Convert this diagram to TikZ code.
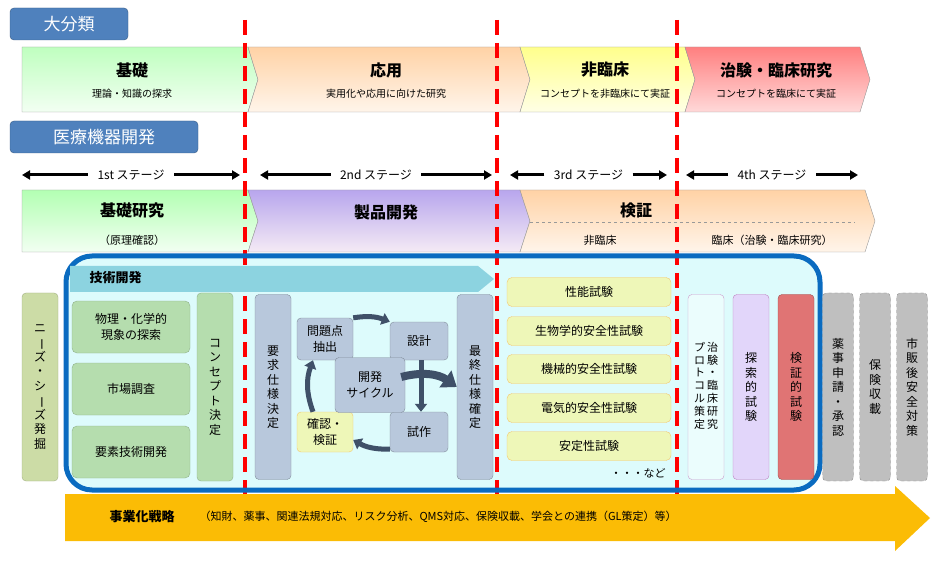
\documentclass[tikz,border=0pt]{standalone}
\usepackage{fontspec}
\setmainfont{Noto Sans CJK JP}
\usetikzlibrary{positioning,arrows.meta,calc}
\definecolor{tabblue}{HTML}{4F81BD}
\definecolor{boxblue}{HTML}{0A6BC0}
\definecolor{cyanbg}{HTML}{DDFBFC}
\definecolor{cyanarr}{HTML}{8CD3E0}
\definecolor{grnbox}{HTML}{B5DDAE}
\definecolor{olive}{HTML}{CCDCA6}
\definecolor{slate}{HTML}{B8C8DC}
\definecolor{ylw}{HTML}{EEF7B8}
\definecolor{lav}{HTML}{E2D6FA}
\definecolor{redbox}{HTML}{E07474}
\definecolor{gold}{HTML}{FBBC05}
\definecolor{cyc}{HTML}{3F5068}
\newcommand\chev[6]{\path[#5] (#1,#3) -- (#2,#3) -- ({#2+10},{(#3+#4)/2}) -- (#2,#4) -- (#1,#4) -- ({#1+#6},{(#3+#4)/2}) -- cycle;}
\newcommand\vbar{\rotatebox[origin=c]{-90}{ー}}
\begin{document}
\begin{tikzpicture}[x=1pt,y=-1pt,
  tab/.style={draw=tabblue!70!black, fill=tabblue, rounded corners=4pt, text=white,
    font=\fontsize{17}{17}\selectfont, inner sep=0pt, minimum height=32pt},
  big/.style={font=\fontsize{16}{16}\selectfont\bfseries},
  small/.style={font=\fontsize{10}{10}\selectfont},
  vbox/.style={rounded corners=4pt, minimum width=36pt, minimum height=188pt,
    align=center, font=\fontsize{12}{14.5}\selectfont, inner sep=1pt},
  hbox/.style={rounded corners=5pt, minimum width=118pt, minimum height=52pt,
    align=center, font=\fontsize{12}{16}\selectfont, fill=grnbox, draw=grnbox!80!black},
  cbox/.style={rounded corners=4pt, fill=slate, draw=slate!70!black, align=center,
    font=\fontsize{12}{16}\selectfont, inner sep=1pt},
  tbox/.style={rounded corners=5pt, fill=ylw, draw=ylw!60!orange, minimum width=164pt,
    minimum height=29pt, font=\fontsize{12}{12}\selectfont},
  gbox/.style={vbox, fill=black!25, draw=black!45, dashed, minimum width=31pt},
  stage/.style={font=\fontsize{12}{12}\selectfont},
  sarr/.style={-{Triangle[length=8pt,width=9pt]}, line width=3pt},
  cyarr/.style={-{Triangle[length=8pt,width=12pt]}, line width=5pt, cyc},
  redline/.style={red, line width=3.5pt, dash pattern=on 15pt off 8pt}]
\useasboundingbox (0,0) rectangle (942,561);

% top row
\node[tab, minimum width=118pt] (tabA) at (69,24) {大分類};
\chev{22}{248}{47}{112}{draw=black!40, top color=green!25, bottom color=green!5}{0}
\chev{248}{520}{47}{112}{draw=black!40, top color=orange!35, bottom color=orange!8}{10}
\chev{520}{685}{47}{112}{draw=black!40, top color=yellow!45, bottom color=yellow!10}{10}
\chev{685}{860}{47}{112}{draw=black!40, top color=red!50, bottom color=red!15}{10}
\node[big] (kiso) at (132,70) {基礎};
\node[small] (kisoS) at (132,94) {理論・知識の探求};
\node[big] (oyo) at (386,70) {応用};
\node[small] (oyoS) at (386,94) {実用化や応用に向けた研究};
\node[big] (hirin) at (605,70) {非臨床};
\node[small] (hirinS) at (605,94) {コンセプトを非臨床にて実証};
\node[big] (chiken) at (776,70) {治験・臨床研究};
\node[small] (chikenS) at (776,94) {コンセプトを臨床にて実証};

% stages
\node[tab, minimum width=188pt] (tabB) at (104,137) {医療機器開発};
\foreach \n/\t/\a/\b in {s1/1st/22/240, s2/2nd/260/492, s3/3rd/510/667, s4/4th/686/858}{
  \node[stage] (\n) at ({(\a+\b)/2},175) {\t\ ステージ};
  \coordinate (\n L) at (\a,175);
  \coordinate (\n R) at (\b,175);
  \draw[sarr] ([xshift=-6pt]\n.west) -- (\n L);
  \draw[sarr] ([xshift=6pt]\n.east) -- (\n R);
}

% second row
\chev{22}{248}{190}{252}{draw=black!40, top color=green!30, bottom color=green!5}{0}
\chev{248}{520}{190}{252}{draw=black!40, top color=violet!40!blue!35, bottom color=violet!8}{10}
\chev{520}{865}{190}{252}{draw=black!40, top color=orange!35, bottom color=orange!8}{10}
\draw[black!40, dashed] (530,222) -- (855,222);
\node[big] (kisoken) at (132,210) {基礎研究};
\node[font=\fontsize{11}{11}\selectfont] (genri) at (132,240) {（原理確認）};
\node[big] (seihin) at (386,212) {製品開発};
\node[big] (kensho) at (636,210) {検証};
\node[font=\fontsize{11}{11}\selectfont] (hr2) at (600,240) {非臨床};
\node[font=\fontsize{11}{11}\selectfont] (rin2) at (772,240) {臨床（治験・臨床研究）};

% main box
\fill[cyanbg, rounded corners=26pt] (66,256) rectangle (820,490);
\foreach \x in {245,497,677}
  \draw[redline] (\x,20) -- (\x,545);
\draw[boxblue, line width=5pt, rounded corners=26pt] (66,256) rectangle (820,490);
\path[fill=cyanarr] (70,266) -- (478,266) -- (494,279) -- (478,292) -- (70,292) -- cycle;
\node[font=\fontsize{13}{13}\selectfont\bfseries, anchor=west] (gijutsu) at (86,278) {技術開発};

\node[vbox, fill=olive, draw=olive!80!black] (needs) at (40,387) {ニ\\\vbar\\ズ\\・\\シ\\\vbar\\ズ\\発\\掘};
\node[hbox] (butsuri) at (131,327) {物理・化学的\\現象の探索};
\node[hbox] (shijo) at (131,389) {市場調査};
\node[hbox] (yoso) at (131,452) {要素技術開発};
\node[vbox, fill=grnbox, draw=grnbox!80!black] (concept) at (215,387) {コ\\ン\\セ\\プ\\ト\\決\\定};

\node[vbox, fill=slate, draw=slate!70!black, minimum height=185pt] (yokyu) at (273,387) {要\\求\\仕\\様\\決\\定};
\node[vbox, fill=slate, draw=slate!70!black, minimum height=185pt] (saishu) at (475,387) {最\\終\\仕\\様\\確\\定};
\node[cbox, minimum width=56pt, minimum height=42pt] (mondai) at (325,339) {問題点\\抽出};
\node[cbox, minimum width=58pt, minimum height=38pt] (sekkei) at (419,341) {設計};
\node[cbox, minimum width=58pt, minimum height=40pt] (shisaku) at (419,432) {試作};
\node[cbox, fill=ylw, draw=ylw!60!orange, minimum width=56pt, minimum height=40pt] (kakunin) at (325,432) {確認・\\検証};
\node[cbox, minimum width=70pt, minimum height=55pt] (cycle) at (370,385) {開発\\サイクル};
\draw[cyarr] (mondai.north east) to[bend left=15] (sekkei.north west);
\draw[cyarr] ([xshift=2pt]sekkei.south) -- ([xshift=2pt]shisaku.north);
\draw[cyarr] ([yshift=3pt]shisaku.south west) to[bend left=15] ([yshift=-8pt]kakunin.east);
\draw[cyarr] ([xshift=-12pt]kakunin.north) to[bend left=20] ([xshift=-12pt]mondai.south);
\draw[-{Triangle[length=14pt,width=20pt]}, line width=8pt, cyc] ([xshift=-4pt,yshift=8pt]cycle.east) to[bend left=25] (saishu.west);

% tests
\foreach \n/\y/\t in {t1/292/性能試験, t2/331/生物学的安全性試験, t3/369/機械的安全性試験, t4/408/電気的安全性試験, t5/446/安定性試験}
  \node[tbox] (\n) at (589,\y) {\t};
\node[font=\fontsize{11}{11}\selectfont] (nado) at (638,473) {・・・など};

\node[vbox, fill=cyanbg!60!white, draw=violet!40, minimum height=185pt, font=\fontsize{11}{13}\selectfont, inner sep=0pt] (proto) at (706,387) {\renewcommand\arraystretch{0.95}\begin{tabular}{@{}c@{\hspace{2pt}}c@{}}プ&治\\ロ&験\\ト&・\\コ&臨\\ル&床\\策&研\\定&究\end{tabular}};
\node[vbox, fill=lav, draw=violet!50, minimum height=185pt] (tansaku) at (751,387) {探\\索\\的\\試\\験};
\node[vbox, fill=redbox, draw=redbox!70!black, minimum height=185pt] (kenshoT) at (796,387) {検\\証\\的\\試\\験};
\node[gbox] (yakuji) at (838,387) {薬\\事\\申\\請\\・\\承\\認};
\node[gbox] (hoken) at (875,387) {保\\険\\収\\載};
\node[gbox] (shihan) at (912,387) {市\\販\\後\\安\\全\\対\\策};

% bottom arrow
\path[fill=gold] (65,494) -- (895,494) -- (895,486) -- (930,518) -- (895,551) -- (895,541) -- (65,541) -- cycle;
\node[font=\fontsize{13}{13}\selectfont\bfseries] (jigyo) at (142,517) {事業化戦略};
\node[font=\fontsize{11}{11}\selectfont, anchor=west] (jigyoS) at (196,517) {（知財、薬事、関連法規対応、リスク分析、QMS対応、保険収載、学会との連携（GL策定）等）};
\end{tikzpicture}
\end{document}
